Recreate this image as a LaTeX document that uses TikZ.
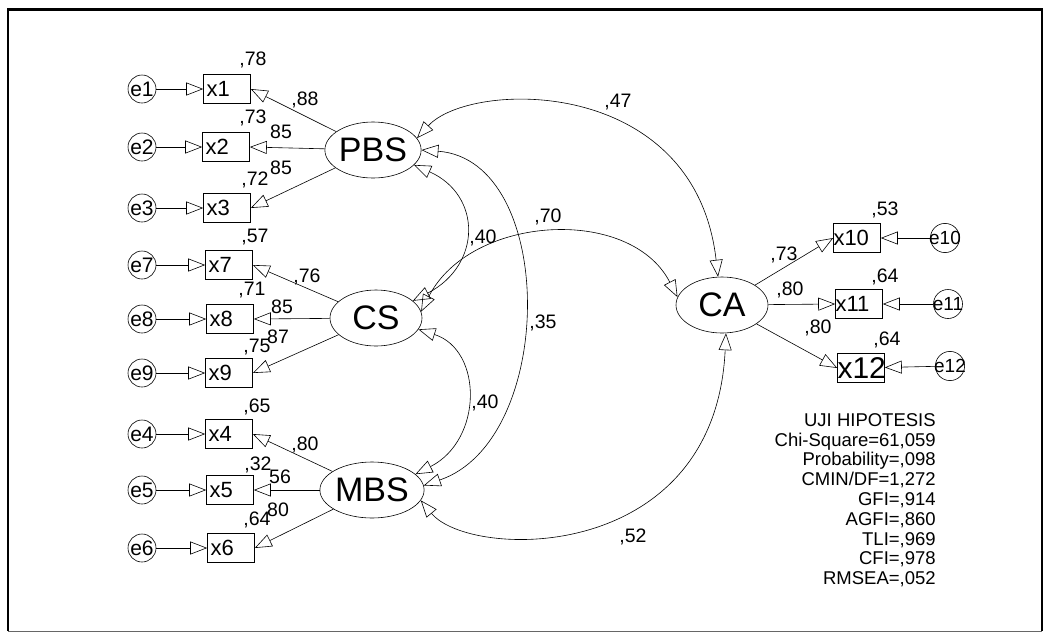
\documentclass[tikz,border=0pt]{standalone}
\usepackage{fontspec}
\setmainfont{Liberation Sans}
\usetikzlibrary{shapes.geometric,arrows.meta}
\begin{document}
\begin{tikzpicture}[x=1pt,y=-1pt,
  line width=0.6pt,
  arr/.style={-{Triangle[open,length=17pt,width=13pt]}},
  darr/.style={{Triangle[open,length=17pt,width=13pt]}-{Triangle[open,length=17pt,width=13pt]}},
  lat/.style={ellipse,draw,minimum width=92pt,minimum height=56pt,inner sep=0pt,font=\fontsize{34}{36}\selectfont},
  obs/.style={draw,rectangle,minimum height=29pt,text width=41pt,inner xsep=3pt,inner ysep=0pt,align=left,font=\fontsize{22}{24}\selectfont},
  obsr/.style={draw,rectangle,minimum height=29pt,text width=47pt,inner xsep=0pt,inner ysep=0pt,align=left,font=\fontsize{22}{24}\selectfont},
  err/.style={circle,draw,minimum size=28pt,inner sep=-2pt,font=\fontsize{21}{23}\selectfont},
  errr/.style={circle,draw,minimum size=29pt,inner sep=-2pt,font=\fontsize{19}{21}\selectfont},
  lab/.style={inner sep=0pt,font=\fontsize{19.5}{21}\selectfont},
]
\useasboundingbox (0,0) rectangle (1049,635);
% frame
\draw[line width=3pt] (7,9) -- (1043,9);
\draw[line width=2pt] (8,9) -- (8,631);
\draw[line width=1.5pt] (1042,9) -- (1042,631);
\draw[line width=1pt,black!60] (8,631) -- (1042,631);

% latent variables
\node[lat] (PBS) at (373,150) {PBS};
\node[lat] (CS)  at (376,318) {CS};
\node[lat] (MBS) at (372,490) {MBS};
\node[lat] (CA)  at (722,305) {CA};

% observed left
\node[obs] (x1) at (227,89) {x1};
\node[obs] (x2) at (226,147) {x2};
\node[obs] (x3) at (227,208) {x3};
\node[obs] (x7) at (229,265) {x7};
\node[obs] (x8) at (230,319) {x8};
\node[obs] (x9) at (229,373) {x9};
\node[obs] (x4) at (229,434) {x4};
\node[obs] (x5) at (230,490) {x5};
\node[obs] (x6) at (231,548) {x6};

% errors left
\node[err] (e1) at (142,89) {e1};
\node[err] (e2) at (142,147) {e2};
\node[err] (e3) at (142,208) {e3};
\node[err] (e7) at (142,265) {e7};
\node[err] (e8) at (142,319) {e8};
\node[err] (e9) at (142,373) {e9};
\node[err] (e4) at (142,434) {e4};
\node[err] (e5) at (142,490) {e5};
\node[err] (e6) at (142,548) {e6};

% observed right
\node[obsr] (x10) at (857,238) {x10};
\node[obsr] (x11) at (859,304) {x11};
\node[obsr,align=center,font=\fontsize{30}{30}\selectfont] (x12) at (861,368) {x12};
\node[errr] (e10) at (945,238) {e10};
\node[errr] (e11) at (948,304) {e11};
\node[errr] (e12) at (950,366) {e12};

% error arrows
\foreach \e/\x in {e1/x1,e2/x2,e3/x3,e7/x7,e8/x8,e9/x9,e4/x4,e5/x5,e6/x6,e10/x10,e11/x11,e12/x12}
  \draw[arr] (\e) -- (\x);

% loadings
\foreach \x in {x1,x2,x3} \draw[arr] (PBS) -- (\x.east);
\foreach \x in {x7,x8,x9} \draw[arr] (CS) -- (\x.east);
\foreach \x in {x4,x5,x6} \draw[arr] (MBS) -- (\x.east);
\foreach \x in {x10,x11,x12} \draw[arr] (CA) -- (\x.west);

% covariances
\draw[darr] (PBS.15) .. controls (470,80) and (695,75) .. (CA.98);
\draw[darr] (PBS.0) .. controls (557,160) and (557,440) .. (MBS.5);
\draw[darr] (PBS.-20) .. controls (482,195) and (482,265) .. (CS.25);
\draw[darr] (CS.8) .. controls (470,215) and (630,205) .. (CA.170);
\draw[darr] (CS.-15) .. controls (483,350) and (483,440) .. (MBS.20);
\draw[darr] (MBS.-12) .. controls (470,560) and (715,565) .. (CA.-82);

% loading labels left
\node[lab] (l1) at (253,60) {,78};
\node[lab] (l2) at (305,100) {,88};
\node[lab] (l3) at (253,118) {,73};
\node[lab] (l4) at (281,132) {85};
\node[lab] (l5) at (255,180) {,72};
\node[lab] (l6) at (281,168) {85};
\node[lab] (l7) at (255,237) {,57};
\node[lab] (l8) at (307,277) {,76};
\node[lab] (l9) at (252,290) {,71};
\node[lab] (l10) at (282,307) {85};
\node[lab] (l11) at (257,347) {,75};
\node[lab] (l12) at (278,337) {87};
\node[lab] (l13) at (257,407) {,65};
\node[lab] (l14) at (305,445) {,80};
\node[lab] (l15) at (258,465) {,32};
\node[lab] (l16) at (280,477) {56};
\node[lab] (l17) at (257,520) {,64};
\node[lab] (l18) at (278,510) {80};

% covariance labels
\node[lab] (c1) at (618,102) {,47};
\node[lab] (c2) at (548,217) {,70};
\node[lab] (c3) at (483,238) {,40};
\node[lab] (c4) at (543,323) {,35};
\node[lab] (c5) at (485,403) {,40};
\node[lab] (c6) at (633,537) {,52};

% right labels
\node[lab] (r1) at (885,210) {,53};
\node[lab] (r2) at (784,255) {,73};
\node[lab] (r3) at (885,277) {,64};
\node[lab] (r4) at (790,290) {,80};
\node[lab] (r5) at (818,328) {,80};
\node[lab] (r6) at (887,340) {,64};

% fit statistics
\node[inner sep=0pt,anchor=north east,align=right,font=\fontsize{18.5}{19.8}\selectfont] (stats) at (936,413)
 {UJI HIPOTESIS\\Chi-Square=61,059\\Probability=,098\\CMIN/DF=1,272\\GFI=,914\\AGFI=,860\\TLI=,969\\CFI=,978\\RMSEA=,052};
\end{tikzpicture}
\end{document}
